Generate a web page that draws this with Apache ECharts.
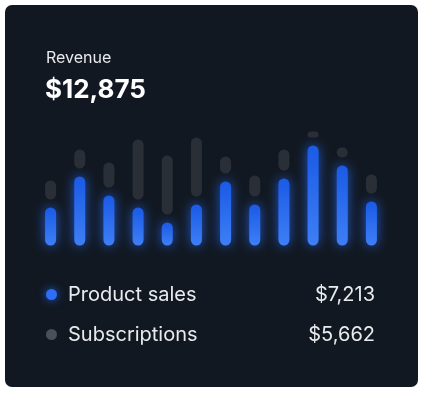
<!DOCTYPE html>
<html><head><meta charset="utf-8">
<script src="https://cdn.jsdelivr.net/npm/echarts@6/dist/echarts.min.js"></script>
<style>html,body{margin:0;padding:0;background:#fff;}#c{width:423px;height:393px;}</style>
</head><body><div id="c"></div>
<script>
const categories = ['1','2','3','4','5','6','7','8','9','10','11','12'];
const productSales = [38, 69, 50, 38, 23, 41, 64, 41, 67, 100, 80, 44];
const subscriptions = [19, 19, 25, 60, 59, 59, 17, 21, 21, 6, 10, 19];
const gapValue = 8;
const titleText = 'Revenue';
const totalText = '$12,875';
const legendNames = ['Product sales', 'Subscriptions'];
const legendValues = ['$7,213', '$5,662'];

const gap = categories.map(() => gapValue);
const font = 'Inter, "Noto Sans", sans-serif';
const chart = echarts.init(document.getElementById('c'), null, {renderer: 'canvas'});
chart.setOption({
  backgroundColor: 'transparent',
  animation: false,
  grid: {left: 36, right: 37, top: 100, bottom: 147.5},
  xAxis: {type: 'category', data: categories, show: false},
  yAxis: {type: 'value', min: 0, max: 145.5, show: false},
  graphic: [
    {type: 'rect', z: -10, shape: {x: 5, y: 5, width: 413, height: 382, r: 7}, style: {fill: '#111821'}},
    {type: 'text', left: 46, top: 50, style: {text: titleText, fill: '#e8eaed', font: '400 16px ' + font}},
    {type: 'text', left: 45, top: 77, style: {text: totalText, fill: '#ffffff', font: '700 26px ' + font}},
    {type: 'circle', shape: {cx: 51.5, cy: 294.5, r: 5.5}, style: {fill: '#2f6ef2', shadowBlur: 8, shadowColor: 'rgba(37,99,235,0.9)'}},
    {type: 'circle', shape: {cx: 51.5, cy: 334.5, r: 5.5}, style: {fill: '#4b5058'}},
    {type: 'text', left: 68, top: 284.5, style: {text: legendNames[0], fill: '#e8eaed', font: '400 20px ' + font}},
    {type: 'text', left: 68, top: 325, style: {text: legendNames[1], fill: '#e8eaed', font: '400 20px ' + font}},
    {type: 'text', right: 48, top: 284.5, style: {text: legendValues[0], fill: '#e8eaed', font: '400 20px ' + font}},
    {type: 'text', right: 48, top: 325, style: {text: legendValues[1], fill: '#e8eaed', font: '400 20px ' + font}}
  ],
  series: [
    {name: legendNames[0], type: 'bar', stack: 's', data: productSales, barWidth: 11,
     itemStyle: {borderRadius: 5.5,
       color: new echarts.graphic.LinearGradient(0, 0, 0, 1, [{offset: 0, color: '#1a5ae6'}, {offset: 1, color: '#3e7ff6'}]),
       shadowBlur: 12, shadowColor: 'rgba(37,99,235,0.85)'}},
    {name: 'gap', type: 'bar', stack: 's', data: gap, barWidth: 11, itemStyle: {color: 'transparent'}, silent: true},
    {name: legendNames[1], type: 'bar', stack: 's', data: subscriptions, barWidth: 11,
     itemStyle: {borderRadius: 5.5, color: '#2a2f37'}}
  ]
});
</script></body></html>
